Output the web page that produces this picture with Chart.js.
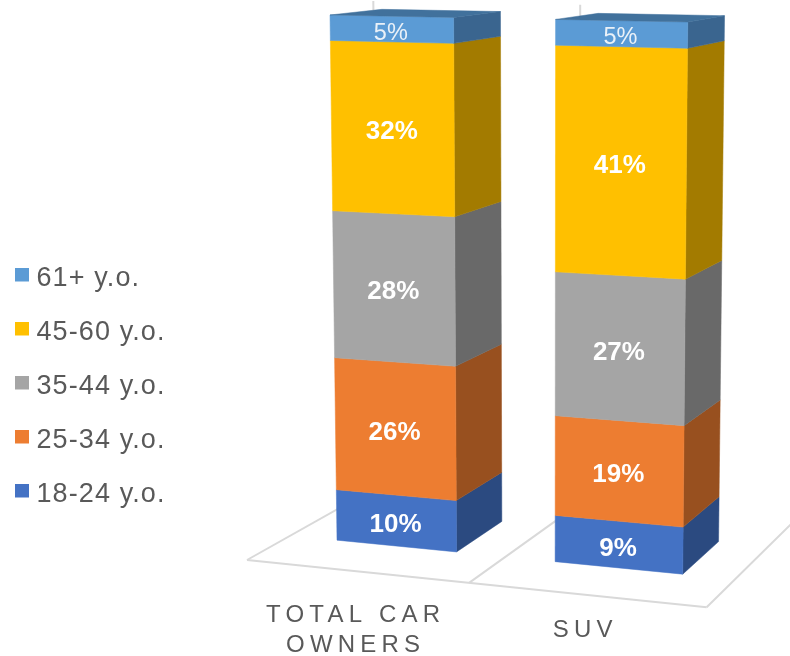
<!DOCTYPE html>
<html>
<head>
<meta charset="utf-8">
<style>html,body{margin:0;padding:0;background:#fff}canvas{display:block}</style>
<script src="https://cdn.jsdelivr.net/npm/chart.js@4/dist/chart.umd.min.js"></script>
</head>
<body>
<canvas id="c" width="790" height="656"></canvas>
<script>
const categories = [["TOTAL CAR", "OWNERS"], ["SUV"]];
const seriesNames = ["18-24 y.o.", "25-34 y.o.", "35-44 y.o.", "45-60 y.o.", "61+ y.o."];
const age18to24 = [9.9, 8.8];
const age25to34 = [25.6, 18.8];
const age35to44 = [28.0, 26.7];
const age45to60 = [31.8, 41.1];
const age61plus = [4.7, 4.6];
const frontColors = ["#4472C4", "#ED7D31", "#A5A5A5", "#FFC000", "#5B9BD5"];
const sideColors = ["#2B4A80", "#98501F", "#696969", "#A37B00", "#3A658F"];
const topColor = "#41719C";

// Perspective camera of the 3D chart: world (x across the categories, y up the value axis, z into the floor)
const CAM = {
  X: [247, 413.5, -18.39, 178.75],
  Y: [560, 7.57, -541.9, -13.1],
  W: [1, -0.0653, -0.03387, 0.125]
};
const BAR_DEPTH = [0.305, 0.70];
const WALL_TOP = 1.007;
const project = (x, y, z) => {
  const f = a => a[0] + a[1] * x + a[2] * y + a[3] * z;
  const w = f(CAM.W);
  return [f(CAM.X) / w, f(CAM.Y) / w];
};
const poly = (ctx, pts, color) => {
  ctx.beginPath();
  pts.forEach((p, i) => i ? ctx.lineTo(p[0], p[1]) : ctx.moveTo(p[0], p[1]));
  ctx.closePath();
  ctx.fillStyle = color;
  ctx.strokeStyle = color;
  ctx.lineWidth = 0.5;
  ctx.fill();
  ctx.stroke();
};
const FONT = '"Liberation Sans", Arial, sans-serif';

// legend swatch: a 14px square sitting slightly above the text's middle line
const swatch = color => {
  const s = document.createElement("canvas");
  s.width = 14;
  s.height = 22;
  const g = s.getContext("2d");
  g.fillStyle = color;
  g.fillRect(0, 0, 14, 14);
  return s;
};

const bars3d = {
  id: "bars3d",
  beforeDraw(chart) {
    chart.ctx.letterSpacing = "1.1px";
  },
  afterLayout(chart) {
    chart.legend.left = -7;
    chart.legend.top = 238;
  },
  beforeDatasetsDraw(chart) {
    const ctx = chart.ctx, area = chart.chartArea;
    ctx.save();
    ctx.letterSpacing = "0px";
    // floor and back-wall lines
    ctx.strokeStyle = "#D9D9D9";
    ctx.lineWidth = 2;
    const line = (a, b) => {
      ctx.beginPath();
      ctx.moveTo(a[0], a[1]);
      ctx.lineTo(b[0], b[1]);
      ctx.stroke();
    };
    line(project(0, 0, 0), project(1, 0, 0));
    const n = categories.length;
    for (let i = 0; i <= n; i++) {
      const x = i / n;
      line(project(x, 0, 0), project(x, 0, 1));
      line(project(x, 0, 1), project(x, WALL_TOP, 1));
    }
    const [zf, zb] = BAR_DEPTH;
    const labels = [];
    chart.data.datasets.forEach((ds, d) => {
      chart.getDatasetMeta(d).data.forEach((el, i) => {
        const xl = (el.x - el.width / 2 - area.left) / area.width;
        const xr = (el.x + el.width / 2 - area.left) / area.width;
        const y0 = (area.bottom - el.base) / area.height;
        const y1 = (area.bottom - el.y) / area.height;
        poly(ctx, [project(xr, y0, zf), project(xr, y0, zb), project(xr, y1, zb), project(xr, y1, zf)], sideColors[d]);
        poly(ctx, [project(xl, y0, zf), project(xr, y0, zf), project(xr, y1, zf), project(xl, y1, zf)], frontColors[d]);
        if (d === chart.data.datasets.length - 1) {
          poly(ctx, [project(xl, y1, zf), project(xr, y1, zf), project(xr, y1, zb), project(xl, y1, zb)], topColor);
        }
        const c = project((xl + xr) / 2, (y0 + y1) / 2, zf);
        labels.push([ds.data[i], c]);
      });
    });
    // value labels
    ctx.textAlign = "center";
    ctx.textBaseline = "middle";
    labels.forEach(([v, c]) => {
      const small = v < 8;
      ctx.font = (small ? "" : "bold ") + (small ? "23.5px " : "26px ") + FONT;
      ctx.fillStyle = small ? "#EAF1F8" : "#FFFFFF";
      ctx.fillText(Math.round(v) + "%", c[0] - 0.5, c[1] + 4);
    });
    // category labels
    const xs = chart.scales.x;
    ctx.font = "24px " + FONT;
    ctx.fillStyle = "#595959";
    ctx.letterSpacing = "5.2px";
    categories.forEach((lines, i) => {
      const px = (xs.getPixelForValue(i) - area.left) / area.width;
      const cx = project(px, 0, 0)[0] - 0.5;
      const lh = 30;
      lines.forEach((t, k) => {
        ctx.fillText(t, cx, 630 + (k - (lines.length - 1) / 2) * lh);
      });
    });
    ctx.restore();
    return false;
  }
};

new Chart(document.getElementById("c"), {
  type: "bar",
  data: {
    labels: categories,
    datasets: [age18to24, age25to34, age35to44, age45to60, age61plus].map((data, i) => ({
      label: seriesNames[i],
      data,
      backgroundColor: frontColors[i],
      borderWidth: 0
    }))
  },
  options: {
    responsive: false,
    animation: false,
    events: [],
    layout: { padding: 0 },
    scales: {
      x: { stacked: true, display: false, offset: true },
      y: { stacked: true, display: false, min: 0, max: 100 }
    },
    datasets: { bar: { categoryPercentage: 1, barPercentage: 0.556 } },
    plugins: {
      tooltip: { enabled: false },
      legend: {
        position: "left",
        align: "start",
        reverse: true,
        labels: {
          usePointStyle: true,
          boxWidth: 3,
          boxHeight: 14,
          padding: 27,
          color: "#595959",
          font: { family: '"Liberation Sans", Arial, sans-serif', size: 27 },
          generateLabels(chart) {
            return Chart.defaults.plugins.legend.labels.generateLabels(chart).map((item, i) => ({
              ...item,
              pointStyle: swatch(frontColors[i])
            }));
          }
        }
      }
    }
  },
  plugins: [bars3d]
});
</script>
</body>
</html>
